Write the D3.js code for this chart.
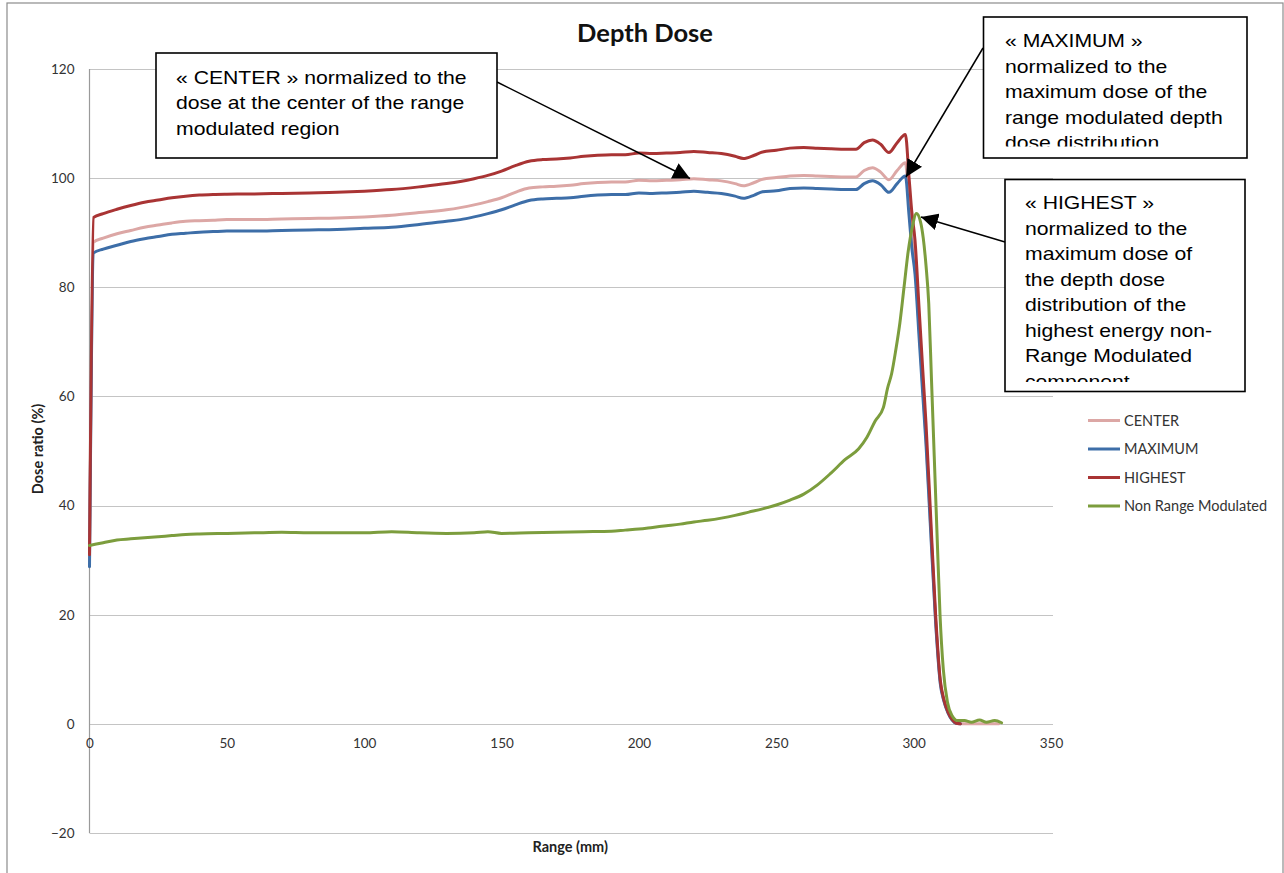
<!DOCTYPE html>
<html><head><meta charset="utf-8">
<script src="https://cdn.jsdelivr.net/npm/d3@7"></script>
<style>
html,body{margin:0;padding:0;background:#fff;}
svg{display:block;}
</style>
</head><body>
<svg id="chart" width="1284" height="873"></svg>
<script>
// ---------------- DATA ----------------
const chartTitle = "Depth Dose";
const xAxisTitle = "Range (mm)";
const yAxisTitle = "Dose ratio (%)";
const xTicks = [0, 50, 100, 150, 200, 250, 300, 350];
const yTicks = [-20, 0, 20, 40, 60, 80, 100, 120];

const seriesNames = ["CENTER", "MAXIMUM", "HIGHEST", "Non Range Modulated"];
const seriesColors = ["#DCA7A5", "#3D6EA8", "#A93434", "#7C9D3D"];

// range (mm) for the range-modulated curves
const rangeRM = [0, 1.5, 5, 10, 15, 20, 25, 30, 35, 40, 45, 50, 60, 70, 80, 90, 100, 110, 120, 130,
  135, 140, 145, 150, 155, 160, 165, 170, 175, 180, 185, 190, 195, 200, 205, 210, 215, 220, 225, 230,
  235, 238, 242, 245, 250, 255, 260, 265, 270, 275, 279, 282, 285, 288, 291, 294, 297,
  298.3, 299.3, 300.5, 302, 303.3, 304.5, 306, 308, 309.7, 311, 312.5, 314, 315.5, 317, 320, 325, 331];

const centerVals = [29.5, 88.3, 89.0, 89.8, 90.4, 91.0, 91.4, 91.8, 92.1, 92.2, 92.3, 92.4, 92.4, 92.5, 92.6, 92.7, 92.9, 93.2, 93.7, 94.2,
  94.6, 95.1, 95.7, 96.4, 97.4, 98.2, 98.4, 98.5, 98.7, 99.0, 99.2, 99.3, 99.3, 99.6, 99.5, 99.6, 99.7, 99.9, 99.7, 99.5,
  99.0, 98.6, 99.2, 99.8, 100.1, 100.4, 100.5, 100.4, 100.3, 100.2, 100.2, 101.4, 101.9, 101.1, 99.7, 101.4, 102.8,
  95.5, 89.5, 84.3, 72.4, 61.9, 52.4, 38.1, 19.0, 7.6, 4.3, 2.1, 0.8, 0.1, 0, 0, 0, 0];

const maximumVals = [28.8, 86.3, 87.0, 87.7, 88.4, 88.9, 89.3, 89.7, 89.9, 90.1, 90.2, 90.3, 90.3, 90.4, 90.5, 90.6, 90.8, 91.0, 91.5, 92.1,
  92.4, 92.9, 93.5, 94.2, 95.1, 95.9, 96.2, 96.3, 96.4, 96.7, 96.9, 97.0, 97.0, 97.3, 97.2, 97.3, 97.4, 97.6, 97.4, 97.2,
  96.7, 96.3, 96.9, 97.5, 97.7, 98.1, 98.2, 98.1, 98.0, 97.9, 97.9, 99.0, 99.5, 98.8, 97.4, 99.0, 100.4,
  93.3, 87.4, 82.4, 70.7, 60.5, 51.2, 37.2, 18.6, 7.4, 4.2, 2.0, 0.7, 0.1, 0, null, null, null];

const highestVals = [31.0, 92.8, 93.5, 94.3, 95.0, 95.6, 96.0, 96.4, 96.7, 96.9, 97.0, 97.05, 97.1, 97.2, 97.3, 97.4, 97.6, 97.9, 98.4, 99.0,
  99.4, 99.9, 100.5, 101.3, 102.3, 103.1, 103.4, 103.5, 103.7, 104.0, 104.2, 104.3, 104.3, 104.6, 104.5, 104.6, 104.7, 104.9, 104.7, 104.5,
  104.0, 103.6, 104.2, 104.8, 105.1, 105.5, 105.6, 105.5, 105.4, 105.3, 105.3, 106.5, 107.0, 106.2, 104.7, 106.5, 108.0,
  100.3, 94.0, 88.6, 76.0, 65.0, 55.0, 40.0, 20.0, 8.0, 4.5, 2.2, 0.8, 0.1, 0, null, null, null];

// range (mm) for the non range modulated curve
const rangeNRM = [0, 5, 10, 15, 20, 25, 30, 35, 40, 50, 60, 70, 80, 90, 100, 110, 120, 130, 140, 145,
  150, 160, 170, 180, 190, 195, 200, 205, 210, 215, 220, 225, 230, 235, 240, 245, 250, 255, 260, 265,
  270, 275, 280, 283, 286, 289, 290.5, 292, 293.5, 295, 296.5, 298, 299.5, 301, 302.5, 303.5, 304.5, 305.5,
  306.5, 307.5, 308.5, 309.6, 310.8, 312.3, 314, 316, 318.5, 321, 324, 326.5, 329.5, 332];
const nrmVals = [32.7, 33.2, 33.7, 33.9, 34.1, 34.3, 34.5, 34.7, 34.8, 34.9, 35.0, 35.1, 35.0, 35.0, 35.0, 35.2, 35.0, 34.9, 35.0, 35.2,
  34.9, 35.0, 35.1, 35.2, 35.3, 35.5, 35.7, 36.0, 36.3, 36.6, 37.0, 37.3, 37.7, 38.2, 38.8, 39.4, 40.1, 41.0, 42.1, 43.8,
  46.0, 48.4, 50.4, 52.5, 55.5, 58.0, 61.5, 64.2, 68.5, 73.5, 80.0, 86.5, 91.0, 93.5, 92.0, 89.0, 84.0, 77.0,
  63.0, 49.0, 35.0, 20.0, 10.0, 4.0, 1.5, 0.6, 0.6, 0.3, 0.7, 0.3, 0.6, 0.2];

const annotCenter = ["« CENTER » normalized to the", "dose at the center of the range", "modulated region"];
const annotMaximum = ["« MAXIMUM »", "normalized to the", "maximum dose of the", "range modulated depth", "dose distribution"];
const annotHighest = ["« HIGHEST »", "normalized to the", "maximum dose of", "the depth dose", "distribution of the",
  "highest energy non-", "Range Modulated", "component"];

// ---------------- DRAW ----------------
const svg = d3.select("#chart");
const W = 1284, H = 873;
const plot = {left: 89.5, right: 1051, top: 69, bottom: 833};
const labelFont = "Lato, 'Open Sans', sans-serif";
const annFont = "'Liberation Sans', Arial, sans-serif";

svg.append("rect").attr("width", W).attr("height", H).attr("fill", "#fff");
// outer chart border
svg.append("rect").attr("x", 7).attr("y", 3).attr("width", 1276).attr("height", 880)
  .attr("fill", "none").attr("stroke", "#8c8c8c").attr("stroke-width", 1.2);

const x = d3.scaleLinear().domain([0, 350]).range([plot.left, plot.right]);
const y = d3.scaleLinear().domain([-20, 120]).range([plot.bottom, plot.top]);

// gridlines
svg.append("g").selectAll("line").data(yTicks).join("line")
  .attr("x1", plot.left).attr("x2", plot.right + 2)
  .attr("y1", d => Math.round(y(d)) + 0.5).attr("y2", d => Math.round(y(d)) + 0.5)
  .attr("stroke", "#c4c4c4").attr("stroke-width", 1.2);

// y axis line
svg.append("line").attr("x1", plot.left).attr("x2", plot.left)
  .attr("y1", plot.top).attr("y2", plot.bottom).attr("stroke", "#9a9a9a").attr("stroke-width", 1.2);

// y tick labels
const yAxis = d3.axisLeft(y).tickValues(yTicks).tickSize(0).tickPadding(15);
const gy = svg.append("g").attr("transform", `translate(${plot.left},0)`).call(yAxis);
gy.select(".domain").remove();
gy.selectAll("text").attr("font-family", labelFont).attr("font-size", 13.5).attr("fill", "#333");

// x tick labels (axis crosses at 0)
const xAxis = d3.axisBottom(x).tickValues(xTicks).tickSize(0).tickPadding(15);
const gx = svg.append("g").attr("transform", `translate(0,${y(0)})`).call(xAxis);
gx.select(".domain").remove();
gx.selectAll("text").attr("font-family", labelFont).attr("font-size", 13.5).attr("fill", "#333");

// axis titles
svg.append("text").attr("x", (plot.left + plot.right) / 2).attr("y", 852)
  .attr("text-anchor", "middle").attr("font-family", labelFont).attr("font-weight", "bold")
  .attr("font-size", 14.5).attr("fill", "#222").text(xAxisTitle);
svg.append("text").attr("transform", `translate(43,${(plot.top + plot.bottom) / 2 - 2}) rotate(-90)`)
  .attr("text-anchor", "middle").attr("font-family", labelFont).attr("font-weight", "bold")
  .attr("font-size", 14.5).attr("fill", "#222").text(yAxisTitle);

// title
svg.append("text").attr("x", 645).attr("y", 42).attr("text-anchor", "middle")
  .attr("font-family", labelFont).attr("font-weight", "bold").attr("font-size", 25.5)
  .attr("fill", "#111").text(chartTitle);

// series
const series = [
  {name: seriesNames[0], xs: rangeRM, ys: centerVals, color: seriesColors[0]},
  {name: seriesNames[1], xs: rangeRM, ys: maximumVals, color: seriesColors[1]},
  {name: seriesNames[2], xs: rangeRM, ys: highestVals, color: seriesColors[2]},
  {name: seriesNames[3], xs: rangeNRM, ys: nrmVals, color: seriesColors[3]}
];
const line = d3.line().defined(d => d[1] !== null)
  .x(d => x(d[0])).y(d => y(d[1])).curve(d3.curveMonotoneX);
svg.append("g").selectAll("path").data(series).join("path")
  .attr("d", s => line(s.xs.map((v, i) => [v, s.ys[i]])))
  .attr("fill", "none").attr("stroke", s => s.color).attr("stroke-width", 3)
  .attr("stroke-linejoin", "round").attr("stroke-linecap", "round");

// legend
const lg = svg.append("g").selectAll("g").data(series).join("g")
  .attr("transform", (s, i) => `translate(1088,${420.5 + i * 28.5})`);
lg.append("line").attr("x1", 0).attr("x2", 32).attr("y1", 0).attr("y2", 0)
  .attr("stroke", s => s.color).attr("stroke-width", 3);
lg.append("text").attr("x", 36).attr("y", 5).attr("font-family", labelFont)
  .attr("font-size", 14.5).attr("fill", "#333").text(s => s.name);

// annotations
const defs = svg.append("defs");
defs.append("marker").attr("id", "arrow").attr("viewBox", "0 0 10 10")
  .attr("refX", 10).attr("refY", 5).attr("markerWidth", 17).attr("markerHeight", 17)
  .attr("markerUnits", "userSpaceOnUse").attr("orient", "auto")
  .append("path").attr("d", "M0,0 L10,5 L0,10 Z").attr("fill", "#000");

const arrows = [
  {x1: 497, y1: 82, x2: 690, y2: 178.5},
  {x1: 983, y1: 48, x2: 906, y2: 177},
  {x1: 1005, y1: 242, x2: 921, y2: 217}
];
svg.append("g").selectAll("line").data(arrows).join("line")
  .attr("x1", d => d.x1).attr("y1", d => d.y1).attr("x2", d => d.x2).attr("y2", d => d.y2)
  .attr("stroke", "#000").attr("stroke-width", 1.5).attr("marker-end", "url(#arrow)");

const boxes = [
  {id: "c1", x: 156, y: 53, w: 341, h: 105, tx: 176, ty: 84, lines: annotCenter, clipH: 105},
  {id: "c2", x: 983.5, y: 17, w: 263.5, h: 141, tx: 1005, ty: 47.5, lines: annotMaximum, clipH: 129.5},
  {id: "c3", x: 1005, y: 179.5, w: 240, h: 212, tx: 1025, ty: 209.5, lines: annotHighest, clipH: 202.5}
];
const sx = 1.115;
boxes.forEach(b => {
  defs.append("clipPath").attr("id", b.id).append("rect")
    .attr("x", b.x).attr("y", b.y).attr("width", b.w).attr("height", b.clipH);
  svg.append("rect").attr("x", b.x).attr("y", b.y).attr("width", b.w).attr("height", b.h)
    .attr("fill", "#fff").attr("stroke", "#000").attr("stroke-width", 1.6);
  const g = svg.append("g").attr("clip-path", `url(#${b.id})`);
  const t = g.append("text")
    .attr("transform", `translate(${b.tx},0) scale(${sx},1) translate(${-b.tx},0)`)
    .attr("font-family", annFont).attr("font-size", 19).attr("fill", "#000");
  b.lines.forEach((l, i) => {
    t.append("tspan").attr("x", b.tx).attr("y", b.ty + i * 25.5).text(l);
  });
});
</script>
</body></html>
